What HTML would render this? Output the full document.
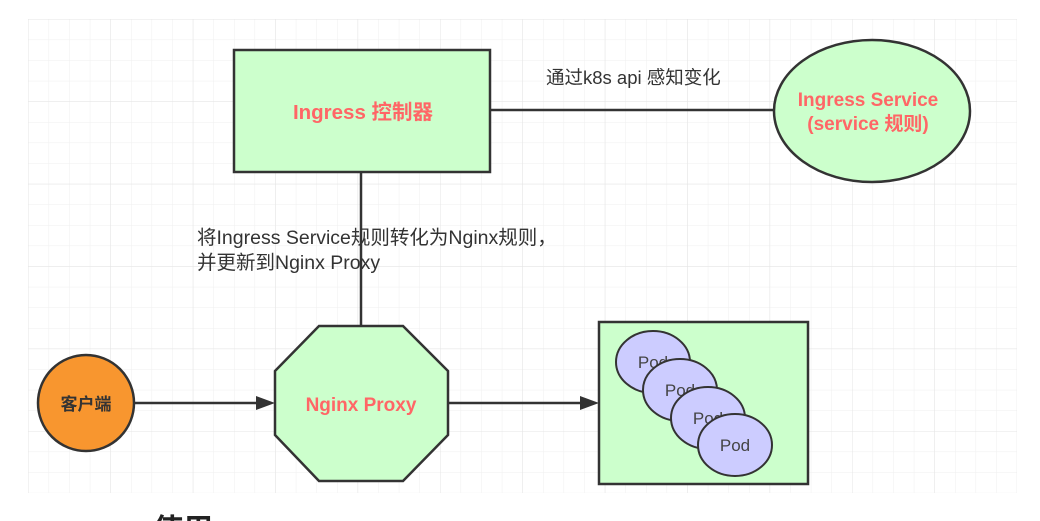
<!DOCTYPE html>
<html><head><meta charset="utf-8"><style>
html,body{margin:0;padding:0;background:#fff;width:1040px;height:521px;overflow:hidden}
svg text{font-family:"Liberation Sans","Noto Sans CJK SC",sans-serif}
</style></head><body>
<svg width="1040" height="521" viewBox="0 0 1040 521" xmlns="http://www.w3.org/2000/svg">
<defs>
<pattern id="g" x="28" y="19" width="20.6" height="20.6" patternUnits="userSpaceOnUse">
<path d="M0 0H20.6M0 0V20.6" stroke="#efefef" stroke-width="1" fill="none"/>
</pattern>
<pattern id="G" x="28" y="19" width="82.4" height="82.4" patternUnits="userSpaceOnUse">
<path d="M0 0H82.4M0 0V82.4" stroke="#e4e4e4" stroke-width="1" fill="none"/>
</pattern>
</defs>
<rect x="28" y="19" width="989" height="474" fill="url(#g)"/>
<rect x="28" y="19" width="989" height="474" fill="url(#G)"/>
<g stroke="#333" stroke-width="2.5" fill="none">
<line x1="490" y1="110" x2="775" y2="110"/>
<line x1="361" y1="172" x2="361" y2="326"/>
<line x1="134" y1="403" x2="258" y2="403"/>
<line x1="448" y1="403" x2="582" y2="403"/>
</g>
<polygon points="256,396 275,403 256,410" fill="#333"/>
<polygon points="580,396 599,403 580,410" fill="#333"/>
<rect x="234" y="50" width="256" height="122" fill="#ccffcc" stroke="#333" stroke-width="2.5"/>
<text x="363" y="119" text-anchor="middle" font-size="20.5" font-weight="bold" fill="#ff6666">Ingress 控制器</text>
<ellipse cx="872" cy="111" rx="98" ry="71" fill="#ccffcc" stroke="#333" stroke-width="2.5"/>
<text x="868" y="106" text-anchor="middle" font-size="19" font-weight="bold" fill="#ff6666">Ingress Service</text>
<text x="868" y="130" text-anchor="middle" font-size="19" font-weight="bold" fill="#ff6666">(service 规则)</text>
<text x="546" y="84" font-size="18.5" fill="#333">通过k8s api 感知变化</text>
<text x="197" y="244" font-size="19.5" fill="#333">将Ingress Service规则转化为Nginx规则，</text>
<text x="197" y="269" font-size="19.5" fill="#333">并更新到Nginx Proxy</text>
<circle cx="86" cy="403" r="48" fill="#f8962f" stroke="#333" stroke-width="2.5"/>
<text x="86" y="410" text-anchor="middle" font-size="17" font-weight="bold" fill="#333">客户端</text>
<polygon points="319,326 403,326 448,371 448,435 403,481 319,481 275,435 275,371" fill="#ccffcc" stroke="#333" stroke-width="2.5"/>
<text x="361" y="411" text-anchor="middle" font-size="19" font-weight="bold" fill="#ff6666">Nginx Proxy</text>
<rect x="599" y="322" width="209" height="162" fill="#ccffcc" stroke="#333" stroke-width="2.5"/>
<g stroke="#333" stroke-width="2" fill="#ccccff" font-size="17">
<ellipse cx="653" cy="362" rx="37" ry="31"/><text x="653" y="368" text-anchor="middle" fill="#444" stroke="none">Pod</text>
<ellipse cx="680" cy="390" rx="37" ry="31"/><text x="680" y="396" text-anchor="middle" fill="#444" stroke="none">Pod</text>
<ellipse cx="708" cy="418" rx="37" ry="31"/><text x="708" y="424" text-anchor="middle" fill="#444" stroke="none">Pod</text>
<ellipse cx="735" cy="445" rx="37" ry="31"/><text x="735" y="451" text-anchor="middle" fill="#444" stroke="none">Pod</text>
</g>
<text x="153" y="540" font-size="30" font-weight="bold" fill="#222">使用</text>
</svg>
</body></html>
